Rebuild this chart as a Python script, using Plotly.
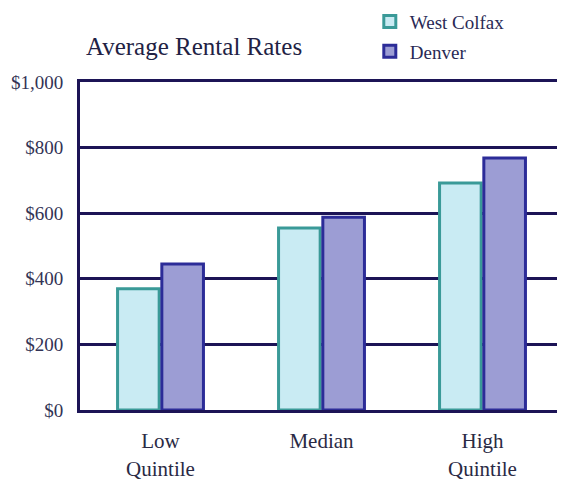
import plotly.graph_objects as go

categories = ["Low<br>Quintile", "Median", "High<br>Quintile"]
west_colfax = [370, 555, 692]
denver = [445, 588, 768]
tick_vals = [0, 200, 400, 600, 800, 1000]
tick_text = ["$0", "$200", "$400", "$600", "$800", "$1,000"]

NAVY = "#1c1456"
FONT = "Liberation Serif"

fig = go.Figure()
fig.add_trace(go.Bar(
    x=categories, y=west_colfax, name="West Colfax", legendgroup="a",
    marker=dict(color="#c9ebf3", line=dict(color="#3a9a98", width=3)),
))
fig.add_trace(go.Bar(
    x=categories, y=denver, name="Denver", legendgroup="b",
    marker=dict(color="#9c9dd4", line=dict(color="#2c2c98", width=3)),
))

fig.update_layout(
    width=565, height=482,
    margin=dict(l=72, r=10, t=74, b=80, autoexpand=False),
    paper_bgcolor="white", plot_bgcolor="white",
    barmode="group", bargap=0.45, bargroupgap=0.06,
    font=dict(family=FONT, color="#2a2a55", size=18),
    showlegend=True,
    legend=dict(x=0.60, y=1.242, xanchor="left", yanchor="top",
                font=dict(family=FONT, size=19, color="#2a2a55"),
                tracegroupgap=2, itemwidth=30, bgcolor="rgba(0,0,0,0)"),
    annotations=[dict(text="Average Rental Rates", x=0.008, y=1.108, xref="paper", yref="paper",
                      xanchor="left", yanchor="middle", showarrow=False,
                      font=dict(family=FONT, size=25, color="#222244"))],
)
fig.update_yaxes(range=[0, 1000], tickvals=tick_vals, ticktext=tick_text,
                 showgrid=True, gridcolor=NAVY, gridwidth=3,
                 showline=True, linecolor=NAVY, linewidth=3,
                 ticks="", ticklabelstandoff=10,
                 tickfont=dict(family=FONT, size=19, color="#333355"),
                 zeroline=False)
fig.update_xaxes(showline=True, mirror=True, linecolor=NAVY, linewidth=3, ticks="",
                 ticklabelstandoff=10,
                 tickfont=dict(family=FONT, size=21, color="#2a2a44"))

fig.write_html("out.html")
